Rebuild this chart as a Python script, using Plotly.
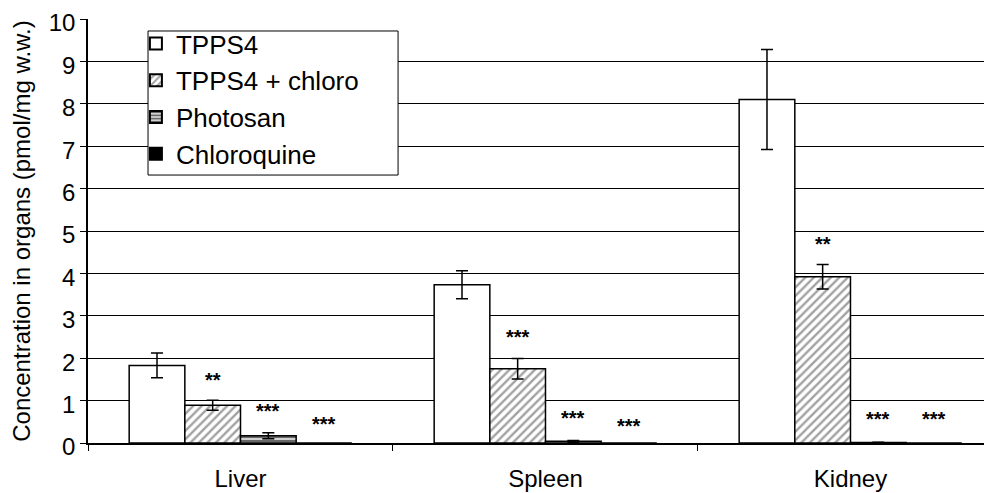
import plotly.graph_objects as go

organs = ["Liver", "Spleen", "Kidney"]
series = ["TPPS4", "TPPS4 + chloro", "Photosan", "Chloroquine"]
tpps4 = [1.83, 3.73, 8.10]
tpps4_err = [0.29, 0.33, 1.18]
tpps4_chloro = [0.89, 1.75, 3.92]
tpps4_chloro_err = [0.12, 0.24, 0.29]
photosan = [0.17, 0.04, 0.01]
photosan_err = [0.07, 0.02, 0.01]
chloroquine = [0.0, 0.0, 0.0]
chloroquine_err = [0.0, 0.0, 0.0]
# significance labels for (TPPS4+chloro, Photosan, Chloroquine) per organ, and their heights
stars = [["**", "***", "***"], ["***", "***", "***"], ["**", "***", "***"]]
star_y = [[1.56, 0.83, 0.52], [2.57, 0.66, 0.47], [4.76, 0.64, 0.64]]

FONT = "Liberation Sans, Arial, sans-serif"
values = [tpps4, tpps4_chloro, photosan, chloroquine]
errs = [tpps4_err, tpps4_chloro_err, photosan_err, chloroquine_err]
styles = [
    dict(color="white"),
    dict(color="white", pattern=dict(shape="/", fgcolor="#444444", bgcolor="white", size=6, solidity=0.4)),
    dict(color="white", pattern=dict(shape="-", fgcolor="black", bgcolor="#d0d0d0", size=4, solidity=0.5)),
    dict(color="black"),
]

fig = go.Figure()
for name, v, e, st in zip(series, values, errs, styles):
    fig.add_trace(go.Bar(
        name=name, x=organs, y=v,
        marker=dict(line=dict(color="black", width=1.5), **st),
        error_y=dict(type="data", array=e, visible=any(x > 0 for x in e),
                     color="black", thickness=1.5, width=6),
    ))

gap = 0.27
bw = (1 - gap) / 4
for i, org in enumerate(organs):
    for j in range(3):
        xpos = i - (1 - gap) / 2 + bw * (j + 1) + bw / 2
        fig.add_annotation(x=xpos, y=star_y[i][j], xref="x", yref="y", text="<b>" + stars[i][j] + "</b>",
                           showarrow=False, font=dict(family=FONT, size=20, color="black"),
                           yanchor="middle", yshift=-3)

# legend frame
fig.add_shape(type="rect", xref="paper", yref="paper", x0=0.0664, x1=0.343, y0=0.632, y1=0.9717,
              line=dict(color="black", width=1), fillcolor="white", layer="above")

fig.update_layout(
    width=984, height=485,
    margin=dict(l=80, r=0, t=11, b=50),
    barmode="group", bargap=gap, bargroupgap=0,
    plot_bgcolor="white", paper_bgcolor="white",
    font=dict(family=FONT, size=24, color="black"),
    showlegend=True,
    legend=dict(x=0.053, y=0.9976, xanchor="left", yanchor="top",
                borderwidth=0, bgcolor="rgba(0,0,0,0)",
                font=dict(family=FONT, size=26, color="black"),
                itemsizing="constant", tracegroupgap=0),
    xaxis=dict(range=[-0.5, 2.464], showline=True, linecolor="black", linewidth=1.5,
               ticks="outside", tickson="boundaries", ticklen=6, tickcolor="black",
               tickfont=dict(size=24), ticklabelstandoff=13, showgrid=False, automargin=False),
    yaxis=dict(range=[0, 10], dtick=1, showline=True, linecolor="black", linewidth=1.5,
               ticks="outside", ticklen=6, tickcolor="black", tickfont=dict(size=24),
               ticklabeloverflow="allow", ticklabelshift=4,
               showgrid=True, gridcolor="black", gridwidth=1, zeroline=False, automargin=False,
               title=dict(text="Concentration in organs (pmol/mg w.w.)", font=dict(size=24), standoff=17)),
)

fig.write_html("out.html")
